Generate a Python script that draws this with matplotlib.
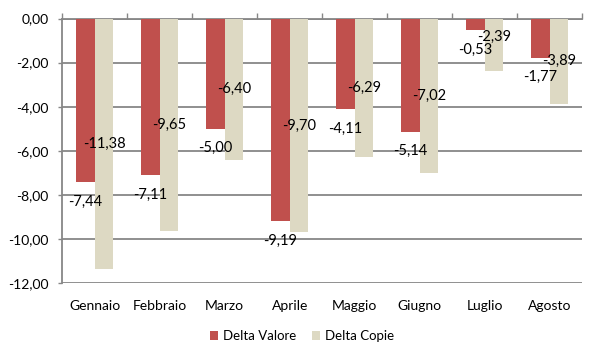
import matplotlib
matplotlib.use("Agg")
import matplotlib.pyplot as plt
import numpy as np

categories = ["Gennaio", "Febbraio", "Marzo", "Aprile", "Maggio", "Giugno", "Luglio", "Agosto"]
delta_valore = [-7.44, -7.11, -5.00, -9.19, -4.11, -5.14, -0.53, -1.77]
delta_copie = [-11.38, -9.65, -6.40, -9.70, -6.29, -7.02, -2.39, -3.89]
yticks = [0, -2, -4, -6, -8, -10, -12]

# label placement nudges (pixels, vertical) for the beige series
copie_nudge = [0, 0, 0, 0, 0, 0, 8, 0]

RED = "#C0504D"
TAN = "#DDD9C3"
GRID = "#878787"
FONT = "Lato"

plt.rcParams["font.family"] = [FONT, "DejaVu Sans"]

fig = plt.figure(figsize=(6, 3.6), dpi=100)
ax = fig.add_axes([0.1038, 0.2139, 0.8662, 0.7347])

x = np.arange(len(categories))
w = 0.285
ax.bar(x - w / 2, delta_valore, width=w, color=RED, label="Delta Valore", zorder=3)
ax.bar(x + w / 2, delta_copie, width=w, color=TAN, label="Delta Copie", zorder=3)

ax.set_xlim(-0.5, len(categories) - 0.5)
ax.set_ylim(-12, 0)

fmt = lambda v: f"{v:.2f}".replace(".", ",")

for i, v in enumerate(delta_valore):
    ax.annotate(fmt(v), (x[i] - w / 2, v), xytext=(0, -14), textcoords="offset points",
                ha="center", va="center", fontsize=10.5, color="black", zorder=5)
for i, v in enumerate(delta_copie):
    ax.annotate(fmt(v), (x[i] + w / 2, v / 2), xytext=(0, copie_nudge[i] * 0.72),
                textcoords="offset points",
                ha="center", va="center", fontsize=10.5, color="black", zorder=5)

# y axis
ax.set_yticks(yticks)
ax.set_yticklabels([fmt(t) for t in yticks], fontsize=10)
ax.tick_params(axis="y", direction="out", length=3, color=GRID, width=1, pad=7)
ax.yaxis.grid(True, color=GRID, linewidth=1.3, zorder=0)

# x axis: tick marks at category boundaries on the top (zero) line, labels at bottom
ax.set_xticks(np.arange(len(categories) + 1) - 0.5)
ax.set_xticks(x, minor=True)
ax.set_xticklabels(categories, minor=True, fontsize=10)
ax.tick_params(axis="x", which="major", top=True, bottom=False, labeltop=False,
               labelbottom=False, direction="out", length=4, color=GRID, width=1)
ax.tick_params(axis="x", which="minor", top=False, bottom=True, length=0,
               labelbottom=True, pad=12)

for s in ["right", "bottom"]:
    ax.spines[s].set_visible(False)
ax.spines["top"].set_color(GRID)
ax.spines["top"].set_linewidth(1.3)
ax.spines["left"].set_color(GRID)
ax.spines["left"].set_linewidth(1.3)
ax.set_axisbelow(True)

fig.legend(loc="center", bbox_to_anchor=(302 / 600, 1 - 336 / 360), ncol=2, frameon=False,
           fontsize=9.5, handlelength=0.6, handleheight=0.6, handletextpad=0.4,
           columnspacing=1.2)

fig.savefig("out.png", dpi=100)
